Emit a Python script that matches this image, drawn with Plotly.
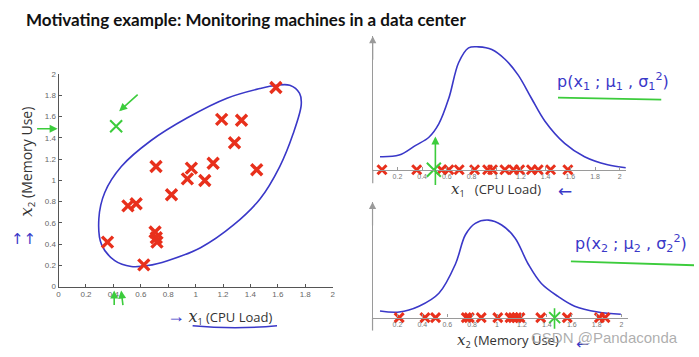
import plotly.graph_objects as go

W, H = 699, 357

# ---------------- data ----------------
# left scatter: x1 = CPU load, x2 = memory use
cpu_load = [0.357, 0.506, 0.566, 0.622, 0.704, 0.713, 0.718, 0.711, 0.824, 0.940,
            0.969, 1.067, 1.128, 1.190, 1.284, 1.335, 1.446, 1.586]
memory_use = [0.419, 0.761, 0.780, 0.205, 0.514, 0.460, 0.419, 1.131, 0.865, 1.015,
              1.116, 1.000, 1.162, 1.575, 1.355, 1.566, 1.101, 1.875]
anomaly_x1 = [0.42]
anomaly_x2 = [1.51]

# hand drawn contour around the data (data units)
ellipse_x = [1.687, 1.759, 1.771, 1.711, 1.614, 1.470, 1.277, 1.036, 0.795, 0.651,
             0.530, 0.410, 0.313, 0.294, 0.337, 0.458, 0.675, 0.940, 1.229, 1.470,
             1.590, 1.687]
ellipse_y = [1.896, 1.820, 1.713, 1.437, 1.131, 0.826, 0.581, 0.367, 0.245, 0.199,
             0.190, 0.245, 0.398, 0.642, 0.887, 1.131, 1.376, 1.590, 1.774, 1.865,
             1.896, 1.896]

# top right: x1 projected onto a line + density curve
x1_marks = [0.075, 0.356, 0.557, 0.616, 0.700, 0.825, 0.930, 0.970, 1.070, 1.140,
            1.190, 1.285, 1.340, 1.440, 1.580]
x1_anomaly = [0.495]
p1_x = [0.059, 0.214, 0.348, 0.455, 0.535, 0.616, 0.696, 0.776, 0.857, 0.964,
        1.071, 1.178, 1.285, 1.393, 1.554, 1.715, 1.902, 2.049]
p1_y = [0.133, 0.150, 0.250, 0.333, 0.470, 0.733, 1.100, 1.250, 1.260, 1.233,
        1.133, 0.970, 0.733, 0.500, 0.270, 0.133, 0.050, 0.020]

# bottom right: x2 projected onto a line + density curve
x2_marks = [0.214, 0.421, 0.506, 0.753, 0.777, 0.873, 1.006, 1.104, 1.131, 1.157,
            1.184, 1.351, 1.564, 1.822, 1.867]
x2_anomaly = [1.463]
p2_x = [0.060, 0.214, 0.373, 0.533, 0.666, 0.746, 0.825, 0.931, 1.037, 1.144,
        1.250, 1.356, 1.490, 1.623, 1.809, 1.994]
p2_y = [0.067, 0.057, 0.117, 0.250, 0.550, 0.850, 0.967, 1.000, 0.950, 0.817,
        0.550, 0.350, 0.217, 0.117, 0.057, 0.034]

left_ticks = [0, 0.2, 0.4, 0.6, 0.8, 1, 1.2, 1.4, 1.6, 1.8, 2]
right_ticks = [0.2, 0.4, 0.6, 0.8, 1, 1.2, 1.4, 1.6, 1.8, 2]

# ---------------- style ----------------
RED = "#e8301c"
BLUE = "#3a38c8"
GREEN = "#3ccc3c"
AXIS = "#555555"
RAXIS = "#9a9a9a"
TICKF = dict(family="Liberation Sans, Arial", size=8, color="#666666")


def px(x):
    return x / W


def py(y):
    return 1 - y / H


fig = go.Figure()

# left scatter
fig.add_trace(go.Scatter(x=ellipse_x, y=ellipse_y, mode="lines",
                         line=dict(color=BLUE, width=1.6, shape="spline", smoothing=1.0),
                         xaxis="x", yaxis="y", hoverinfo="skip"))
fig.add_trace(go.Scatter(x=cpu_load, y=memory_use, mode="markers",
                         marker=dict(symbol="x-thin", size=11, line=dict(color=RED, width=3.4)),
                         xaxis="x", yaxis="y"))
fig.add_trace(go.Scatter(x=anomaly_x1, y=anomaly_x2, mode="markers",
                         marker=dict(symbol="x-thin", size=12, line=dict(color=GREEN, width=2)),
                         xaxis="x", yaxis="y"))

# top right
fig.add_trace(go.Scatter(x=p1_x, y=p1_y, mode="lines",
                         line=dict(color=BLUE, width=1.6, shape="spline", smoothing=1.0),
                         xaxis="x2", yaxis="y2", cliponaxis=False))
fig.add_trace(go.Scatter(x=x1_marks, y=[0] * len(x1_marks), mode="markers",
                         marker=dict(symbol="x-thin", size=9, line=dict(color=RED, width=3)),
                         xaxis="x2", yaxis="y2", cliponaxis=False))
fig.add_trace(go.Scatter(x=x1_anomaly, y=[0] * len(x1_anomaly), mode="markers",
                         marker=dict(symbol="x-thin", size=14, line=dict(color=GREEN, width=2)),
                         xaxis="x2", yaxis="y2", cliponaxis=False))

# bottom right
fig.add_trace(go.Scatter(x=p2_x, y=p2_y, mode="lines",
                         line=dict(color=BLUE, width=1.6, shape="spline", smoothing=1.0),
                         xaxis="x3", yaxis="y3", cliponaxis=False))
fig.add_trace(go.Scatter(x=x2_marks, y=[0] * len(x2_marks), mode="markers",
                         marker=dict(symbol="x-thin", size=9, line=dict(color=RED, width=3)),
                         xaxis="x3", yaxis="y3", cliponaxis=False))
fig.add_trace(go.Scatter(x=x2_anomaly, y=[0] * len(x2_anomaly), mode="markers",
                         marker=dict(symbol="x-thin", size=11, line=dict(color=GREEN, width=2)),
                         xaxis="x3", yaxis="y3", cliponaxis=False))

left_axis = dict(range=[0, 2], tickvals=left_ticks, ticktext=[f"{t:g}" for t in left_ticks],
                 showline=True, linecolor=AXIS, linewidth=1, ticks="inside", ticklen=3,
                 tickcolor=AXIS, showgrid=False, zeroline=False, tickfont=TICKF)
right_x = dict(range=[0, 2.05], tickvals=right_ticks, ticktext=[f"{t:g}" for t in right_ticks],
               showline=True, linecolor=RAXIS, linewidth=1.2, ticks="inside", ticklen=3,
               tickcolor=RAXIS, showgrid=False, zeroline=False,
               tickfont=dict(family="Liberation Sans, Arial", size=7, color="#777777"))
right_y = dict(showline=True, linecolor=RAXIS, linewidth=1.2, showticklabels=False,
               ticks="", showgrid=False, zeroline=False)

fig.update_layout(
    width=W, height=H, margin=dict(l=0, r=0, t=0, b=0),
    paper_bgcolor="white", plot_bgcolor="white", showlegend=False,
    xaxis=dict(**left_axis, domain=[px(57), px(333)], anchor="y"),
    yaxis=dict(**left_axis, domain=[py(290), py(72)], anchor="x"),
    xaxis2=dict(**right_x, domain=[px(373.4), px(628.4)], anchor="y2"),
    yaxis2=dict(**right_y, range=[0, 1.37], domain=[py(170), py(33)], anchor="x2"),
    xaxis3=dict(**right_x, domain=[px(373.2), px(630.3)], anchor="y3"),
    yaxis3=dict(**right_y, range=[0, 1.187], domain=[py(321.7), py(203)], anchor="x3"),
)

shapes = []
# y-axis extensions below the x-axis on right panels
shapes.append(dict(type="line", xref="x2 domain", yref="paper", x0=0, x1=0,
                   y0=py(170), y1=py(184), line=dict(color=RAXIS, width=1.2)))
shapes.append(dict(type="line", xref="x3 domain", yref="paper", x0=0, x1=0,
                   y0=py(321.7), y1=py(335), line=dict(color=RAXIS, width=1.2)))
# hand drawn underlines
shapes.append(dict(type="path", xref="paper", yref="paper",
                   path=f"M {px(192)} {py(330)} Q {px(235)} {py(334)} {px(277)} {py(330)}",
                   line=dict(color=BLUE, width=1.5)))
shapes.append(dict(type="line", xref="paper", yref="paper", x0=px(560), x1=px(664),
                   y0=py(96), y1=py(98), line=dict(color=GREEN, width=1.8)))
shapes.append(dict(type="line", xref="paper", yref="paper", x0=px(573), x1=px(697),
                   y0=py(264), y1=py(268), line=dict(color=GREEN, width=1.8)))
fig.update_layout(shapes=shapes)

serif = "font-family:'DejaVu Serif', 'Liberation Serif', serif;font-style:italic"
ann = []


def note(text, x, y, xanchor="center", yanchor="middle", **kw):
    d = dict(text=text, x=px(x), y=py(y), xref="paper", yref="paper",
             xanchor=xanchor, yanchor=yanchor, showarrow=False)
    d.update(kw)
    ann.append(d)


note("<b>Motivating example: Monitoring machines in a data center</b>", 22, 16,
     xanchor="left", font=dict(family="Lato", size=17, color="#111111"))
# left axis titles
note(f"<span style=\"color:{BLUE};font-size:18px\">→</span> "
     f"<span style=\"{serif};font-size:16px\">x</span><sub>1</sub> (CPU Load)",
     164, 320, xanchor="left", font=dict(family="Open Sans", size=13, color="#333333"))
note(f"<span style=\"{serif};font-size:17px\">x</span><sub>2</sub> (Memory Use)", 25, 162,
     textangle=-90, font=dict(family="Open Sans", size=14, color="#333333"))
note("↑↑", 22, 241, font=dict(family="DejaVu Sans", size=15, color=BLUE))
# right axis titles
note(f"<span style=\"{serif};font-size:15px\">x</span><sub>1</sub>   (CPU Load)",
     450, 191, xanchor="left", font=dict(family="Open Sans", size=13, color="#333333"))
note("←", 567, 192, font=dict(family="DejaVu Sans", size=17, color=BLUE))
note(f"<span style=\"{serif};font-size:15px\">x</span><sub>2</sub> (Memory Use)",
     456, 346, xanchor="left", font=dict(family="Open Sans", size=13, color="#333333"))
note("←", 585, 349, font=dict(family="DejaVu Sans", size=15, color=BLUE))
# handwritten formulas
note("p(x<sub>1</sub> ; μ<sub>1</sub> , σ<sub>1</sub><sup>2</sup>)", 615, 79,
     font=dict(family="DejaVu Sans", size=16, color=BLUE))
note("p(x<sub>2</sub> ; μ<sub>2</sub> , σ<sub>2</sub><sup>2</sup>)", 634, 246,
     font=dict(family="DejaVu Sans", size=16, color=BLUE))
# watermark
note("CSDN @Pandaconda", 683, 342, xanchor="right",
     font=dict(family="Liberation Sans, Arial", size=15, color="rgba(160,160,160,0.85)"))

# y-axis arrowheads on the right panels
for xr, yr in (("x2 domain", "y2 domain"), ("x3 domain", "y3 domain")):
    ann.append(dict(text="", x=0, y=1, xref=xr, yref=yr, ax=0, ay=25,
                    showarrow=True, arrowhead=2, arrowsize=1.2, arrowwidth=1.2, arrowcolor=RAXIS))
# green hand-drawn arrows
green_arrow = dict(text="", xref="paper", yref="paper", showarrow=True, arrowhead=2,
                   arrowsize=1, arrowwidth=1.6, arrowcolor=GREEN)
ann.append(dict(green_arrow, x=px(56), y=py(128), ax=-22, ay=0))
ann.append(dict(green_arrow, x=px(118), y=py(110), ax=20, ay=-18))
ann.append(dict(green_arrow, x=px(113), y=py(294), ax=0, ay=16))
ann.append(dict(green_arrow, x=px(120), y=py(294), ax=2, ay=16))
ann.append(dict(green_arrow, x=px(436.5), y=py(136), ax=0, ay=50))
ann.append(dict(green_arrow, x=px(556.5), y=py(312), ax=0, ay=22, arrowhead=0))
fig.update_layout(annotations=ann)

fig.write_html("out.html", config={"displayModeBar": False},
               post_script="document.body.style.margin='0';")
